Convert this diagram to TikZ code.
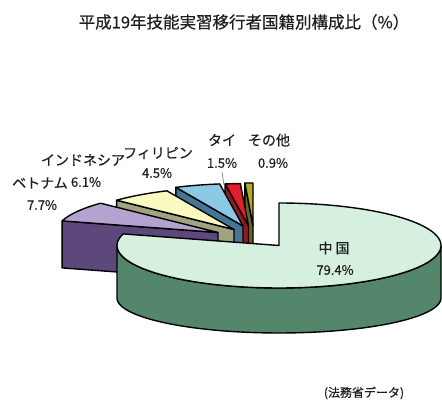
\documentclass[tikz,border=0pt]{standalone}
\usepackage{fontspec}
\setmainfont{Noto Sans CJK JP}[FakeBold=0.4]
\definecolor{chinatop}{RGB}{214,240,223}
\definecolor{chinaside}{RGB}{84,134,108}
\definecolor{viettop}{RGB}{180,162,208}
\definecolor{vietside}{RGB}{92,72,122}
\definecolor{indotop}{RGB}{250,249,192}
\definecolor{indoside}{RGB}{162,162,128}
\definecolor{philtop}{RGB}{138,202,228}
\definecolor{philside}{RGB}{70,118,150}
\definecolor{thaitop}{RGB}{224,30,44}
\definecolor{thaiside}{RGB}{150,24,34}
\definecolor{othtop}{RGB}{176,170,42}
\definecolor{othside}{RGB}{106,100,30}
\definecolor{inktext}{RGB}{30,30,30}
\tikzset{
  face/.style={draw=black, line width=1.4pt, line join=round},
  ttl/.style={font=\fontsize{16.5}{18}\selectfont, text=inktext, inner sep=0pt},
  lbl/.style={font=\fontsize{14}{16}\selectfont, text=inktext, inner sep=0pt},
  pct/.style={font=\fontsize{13}{15}\selectfont, text=inktext, inner sep=0pt},
  srcnote/.style={font=\fontsize{12}{14}\selectfont, text=inktext, inner sep=0pt},
  leader/.style={draw=gray, line width=0.7pt}
}
% top face of a slice: dx, dy, start angle, end angle, colour
\newcommand{\slicetop}[5]{%
  \filldraw[face, fill=#5] ({279+(#1)},{245.5+(#2)}) --
    plot[domain=#3:#4, samples=40] ({279+(#1)+162*cos(\x)},{245.5+(#2)-42.5*sin(\x)}) -- cycle;}
% radial face of a slice: dx, dy, angle, colour
\newcommand{\sliceside}[4]{%
  \filldraw[face, fill=#4] ({279+(#1)},{245.5+(#2)}) --
    ({279+(#1)+162*cos(#3)},{245.5+(#2)-42.5*sin(#3)}) -- ++(0,47) --
    ({279+(#1)},{292.5+(#2)}) -- cycle;}
\begin{document}
\begin{tikzpicture}[x=1pt,y=-1pt]
\useasboundingbox (0,0) rectangle (442,403);
\fill[white] (0,0) rectangle (442,403);

% title
\node[ttl] (title) at (244,22) {平成19年技能実習移行者国籍別構成比（\%）};

% exploded small slices, back to front
\sliceside{-26}{-20}{92.88}{othside}
\slicetop{-26}{-20}{90}{92.88}{othtop}
\sliceside{-30.5}{-19.5}{98.28}{thaiside}
\slicetop{-30.5}{-19.5}{92.88}{98.28}{thaitop}
\sliceside{-36}{-19.5}{114.48}{philside}
\slicetop{-36}{-19.5}{98.28}{114.48}{philtop}
\sliceside{-45}{-16}{136.44}{indoside}
\slicetop{-45}{-16}{114.48}{136.44}{indotop}
\sliceside{-61}{-13}{164.16}{vietside}
\slicetop{-61}{-13}{136.44}{164.16}{viettop}

% China slice: front wall then top face
\filldraw[face, fill=chinaside]
  plot[domain=0:-180, samples=80] ({279+162*cos(\x)},{245.5-42.5*sin(\x)}) --
  plot[domain=-180:0, samples=80] ({279+162*cos(\x)},{298-35*sin(\x)}) -- cycle;
\filldraw[face, fill=chinatop] (279,245.5) --
  plot[domain=90:-195.84, samples=120] ({279+162*cos(\x)},{245.5-42.5*sin(\x)}) -- cycle;

% labels
\node[lbl] (thai) at (222,140) {タイ};
\node[pct] (thaipct) at (222,163) {1.5\%};
\node[lbl] (other) at (269,140) {その他};
\node[pct] (otherpct) at (273,163) {0.9\%};
\node[lbl] (phil) at (158,153) {フィリピン};
\node[pct] (philpct) at (157,173) {4.5\%};
\node[lbl] (indo) at (83,160) {インドネシア};
\node[pct] (indopct) at (86,182) {6.1\%};
\node[lbl] (viet) at (40,183) {ベトナム};
\node[pct] (vietpct) at (42,205) {7.7\%};
\node[lbl] (china) at (334,248) {中\hspace{3pt}国};
\node[pct] (chinapct) at (335,270) {79.4\%};
\node[srcnote] (src) at (364,393) {(法務省データ)};

% leader for Thailand label
\coordinate (thaislice) at (224,185);
\draw[leader] ([yshift=-4pt]thaipct.south) -- (thaislice);
\end{tikzpicture}
\end{document}
